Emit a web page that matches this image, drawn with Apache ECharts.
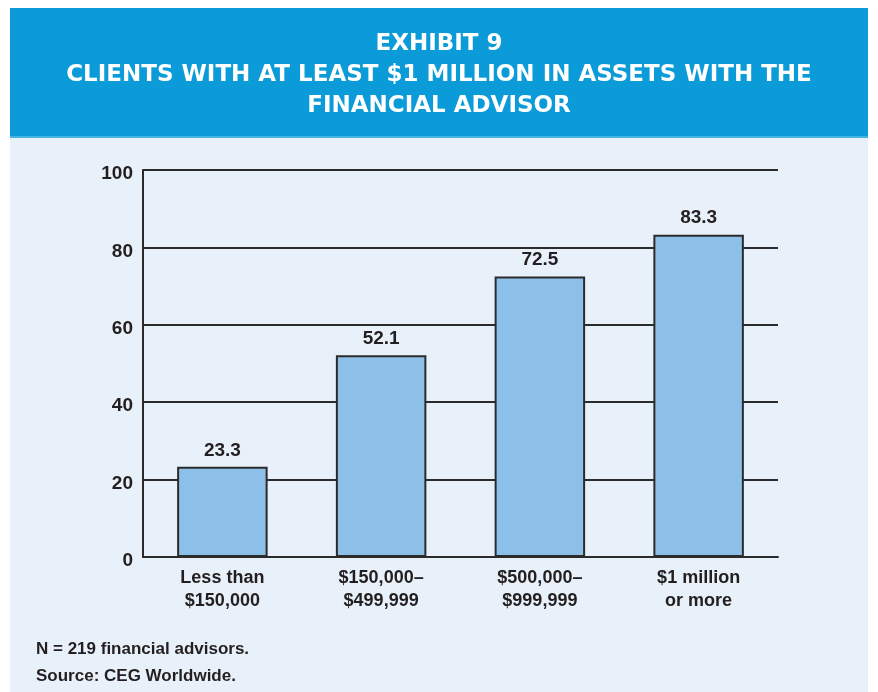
<!DOCTYPE html>
<html>
<head>
<meta charset="utf-8">
<script src="https://cdn.jsdelivr.net/npm/echarts@6/dist/echarts.min.js"></script>
<style>
  html, body { margin: 0; padding: 0; background: #fff; }
  #chart { width: 878px; height: 692px; }
</style>
</head>
<body>
<div id="chart"></div>
<script>
const categories = ['Less than\n$150,000', '$150,000–\n$499,999', '$500,000–\n$999,999', '$1 million\nor more'];
const shares = [23.3, 52.1, 72.5, 83.3];
const yTicks = { min: 0, max: 100, step: 20 };
const titleLines = ['EXHIBIT 9', 'CLIENTS WITH AT LEAST $1 MILLION IN ASSETS WITH THE', 'FINANCIAL ADVISOR'];
const notes = ['N = 219 financial advisors.', 'Source: CEG Worldwide.'];

const ink = '#231f20';
const font = '"Liberation Sans"';

const chart = echarts.init(document.getElementById('chart'));

const titleGraphics = titleLines.map((t, i) => ({
  type: 'text',
  left: 'center',
  top: 33 + i * 31,
  z: 10,
  style: { text: t, fill: '#fff', font: 'bold 23px "DejaVu Sans"' }
}));

chart.setOption({
  backgroundColor: '#fff',
  animation: false,
  graphic: [
    { type: 'rect', left: 10, top: 138, z: -10, shape: { width: 858, height: 554 }, style: { fill: '#e8f1fa' } },
    { type: 'rect', left: 10, top: 8, z: -10, shape: { width: 858, height: 130 }, style: { fill: '#0b9bd8' } },
    { type: 'rect', left: 10, top: 136, z: -9, shape: { width: 858, height: 2 }, style: { fill: '#45b2e4' } },
    ...titleGraphics,
    ...notes.map((t, i) => ({
      type: 'text', left: 36, top: 641 + i * 27,
      style: { text: t, fill: ink, font: 'bold 17px ' + font }
    }))
  ],
  grid: { left: 143, right: 100, top: 170, bottom: 135 },
  xAxis: {
    type: 'category',
    data: categories,
    axisLine: { lineStyle: { color: '#2b2b2b', width: 2 } },
    axisTick: { show: false },
    axisLabel: { color: ink, fontFamily: font, fontWeight: 'bold', fontSize: 18, lineHeight: 23, margin: 10 }
  },
  yAxis: {
    type: 'value',
    min: yTicks.min,
    max: yTicks.max,
    interval: yTicks.step,
    axisLine: { show: true, lineStyle: { color: '#2b2b2b', width: 2 } },
    axisTick: { show: false },
    axisLabel: {
      margin: 10,
      formatter: v => '{t|' + v + '}',
      rich: { t: { color: ink, fontFamily: font, fontWeight: 'bold', fontSize: 19, padding: [8, 0, 0, 0] } }
    },
    splitLine: { lineStyle: { color: '#2b2b2b', width: 2 } }
  },
  series: [{
    type: 'bar',
    data: shares,
    barWidth: '57%',
    itemStyle: { color: '#8dc0e8', borderColor: '#2b2b2b', borderWidth: 2 },
    label: {
      show: true, position: 'top', distance: 7,
      color: ink, fontFamily: font, fontWeight: 'bold', fontSize: 19,
      formatter: p => p.value.toFixed(1)
    }
  }]
});
</script>
</body>
</html>
